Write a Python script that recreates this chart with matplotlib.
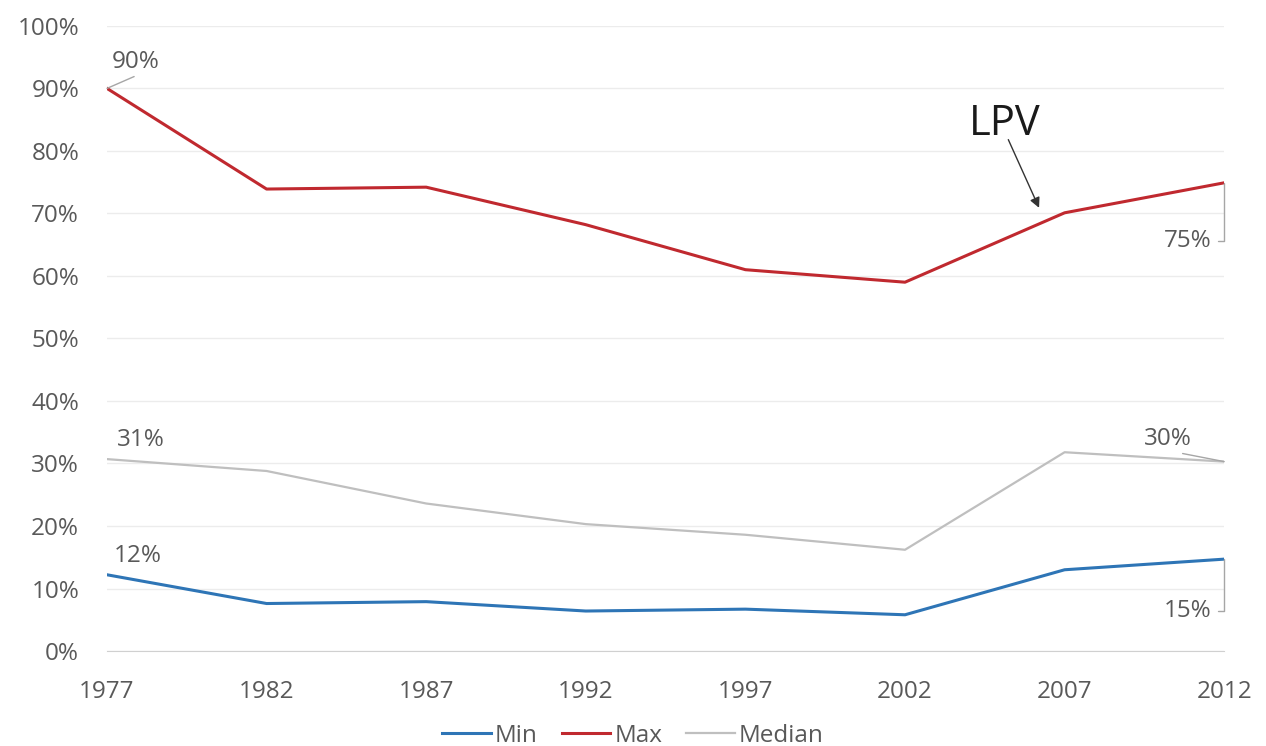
import matplotlib
matplotlib.use("Agg")
import matplotlib.pyplot as plt
from matplotlib.ticker import FuncFormatter

years = [1977, 1982, 1987, 1992, 1997, 2002, 2007, 2012]
min_vals = [12.2, 7.6, 7.9, 6.4, 6.7, 5.8, 13.0, 14.7]
max_vals = [90.0, 73.9, 74.2, 68.2, 61.0, 59.0, 70.1, 74.9]
median_vals = [30.7, 28.8, 23.6, 20.3, 18.6, 16.2, 31.8, 30.3]
yticks = list(range(0, 101, 10))

plt.rcParams['font.family'] = ['Open Sans', 'DejaVu Sans']
txt = '#595959'
fs = 17.5

fig = plt.figure(figsize=(12.66, 7.46), dpi=100)
ax = fig.add_axes([0.0845, 0.1273, 0.8825, 0.838])

ax.plot(years, min_vals, color='#2e75b6', lw=2.2, label='Min', zorder=3)
ax.plot(years, max_vals, color='#c0292f', lw=2.2, label='Max', zorder=3)
ax.plot(years, median_vals, color='#bfbfbf', lw=1.6, label='Median', zorder=3)

ax.set_xlim(years[0], years[-1])
ax.set_ylim(0, 100)
ax.set_yticks(yticks)
ax.yaxis.set_major_formatter(FuncFormatter(lambda v, p: f"{int(v)}%"))
ax.set_xticks(years)
ax.grid(axis='y', color='#ececec', lw=1)
ax.set_axisbelow(True)
for s in ['top', 'right', 'left']:
    ax.spines[s].set_visible(False)
ax.spines['bottom'].set_color('#d0d0d0')
ax.tick_params(axis='both', length=0, labelsize=fs, labelcolor=txt)
ax.tick_params(axis='x', pad=21)
ax.tick_params(axis='y', pad=20)

lblkw = dict(fontsize=fs, color=txt)

# 90%
ax.annotate(f"{max_vals[0]:.0f}%", xy=(years[0], max_vals[0]), xytext=(years[0] + 0.15, 93.3),
            arrowprops=dict(arrowstyle='-', color='#a6a6a6', lw=1, shrinkA=0, shrinkB=0,
                            relpos=(0.6, 0)), **lblkw)
# 31%
ax.text(years[0] + 0.3, 32.8, f"{median_vals[0]:.0f}%", **lblkw)
# 12%
ax.text(years[0] + 0.2, 14.3, f"{min_vals[0]:.0f}%", **lblkw)
# 75%
ax.annotate(f"{max_vals[-1]:.0f}%", xy=(years[-1], max_vals[-1]), xytext=(2011.6, 65.6),
            ha='right', va='center',
            arrowprops=dict(arrowstyle='-', color='#a6a6a6', lw=1, shrinkA=3, shrinkB=0,
                            connectionstyle='angle,angleA=0,angleB=90,rad=0'), **lblkw)
# 15%
ax.annotate(f"{min_vals[-1]:.0f}%", xy=(years[-1], min_vals[-1]), xytext=(2011.6, 6.4),
            ha='right', va='center',
            arrowprops=dict(arrowstyle='-', color='#a6a6a6', lw=1, shrinkA=3, shrinkB=0,
                            connectionstyle='angle,angleA=0,angleB=90,rad=0'), **lblkw)
# 30%
ax.annotate(f"{median_vals[-1]:.0f}%", xy=(years[-1], median_vals[-1]), xytext=(2009.5, 33.0),
            arrowprops=dict(arrowstyle='-', color='#a6a6a6', lw=1, shrinkA=0, shrinkB=0,
                            relpos=(0.5, 0)), **lblkw)

# LPV
ax.annotate("LPV", xy=(2006.2, 70.9), xytext=(2004.0, 82.6),
            fontsize=30, color='#1a1a1a',
            arrowprops=dict(arrowstyle='-|>', color='#333333', lw=1, mutation_scale=15,
                            patchA=None, shrinkA=0, shrinkB=0, relpos=(0.55, 0.12)))

leg = fig.legend(loc='lower center', bbox_to_anchor=(0.5, -0.032), ncol=3, frameon=False,
                 fontsize=fs, handlelength=2.0, handletextpad=0.15, columnspacing=1.0)
for t in leg.get_texts():
    t.set_color(txt)

fig.savefig('out.png', dpi=100, facecolor='white')
